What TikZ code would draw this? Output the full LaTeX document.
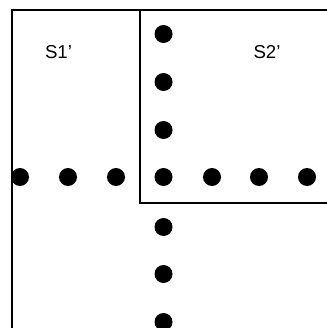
\documentclass[tikz,border=0pt]{standalone}
\usepackage{fontspec}
\setmainfont{Liberation Sans}
\begin{document}
\begin{tikzpicture}[x=0.75pt,y=-0.75pt,
  dot/.style={circle,fill=black,inner sep=0pt,minimum size=13.5pt},
  border/.style={line width=1.5pt,line cap=rect},
  lbl/.style={font=\fontsize{14}{16}\selectfont}]
\useasboundingbox (0,0) rectangle (326,328);
\draw[border] (326,10) -- (12,10) -- (12,330);
\draw[border] (140,10) -- (140,203) -- (328,203);
\node[lbl] (s1) at (58.5,52) {S1\char"0027};
\node[lbl] (s2) at (267,52) {S2\char"0027};
\foreach \y [count=\i] in {34,82,130} \node[dot] (v\i) at (163.5,\y) {};
\foreach \x [count=\i] in {20,68,116,163.5,212,259,307} \node[dot] (h\i) at (\x,177) {};
\foreach \y [count=\i] in {227,274,322} \node[dot] (w\i) at (163.5,\y) {};
\end{tikzpicture}
\end{document}
